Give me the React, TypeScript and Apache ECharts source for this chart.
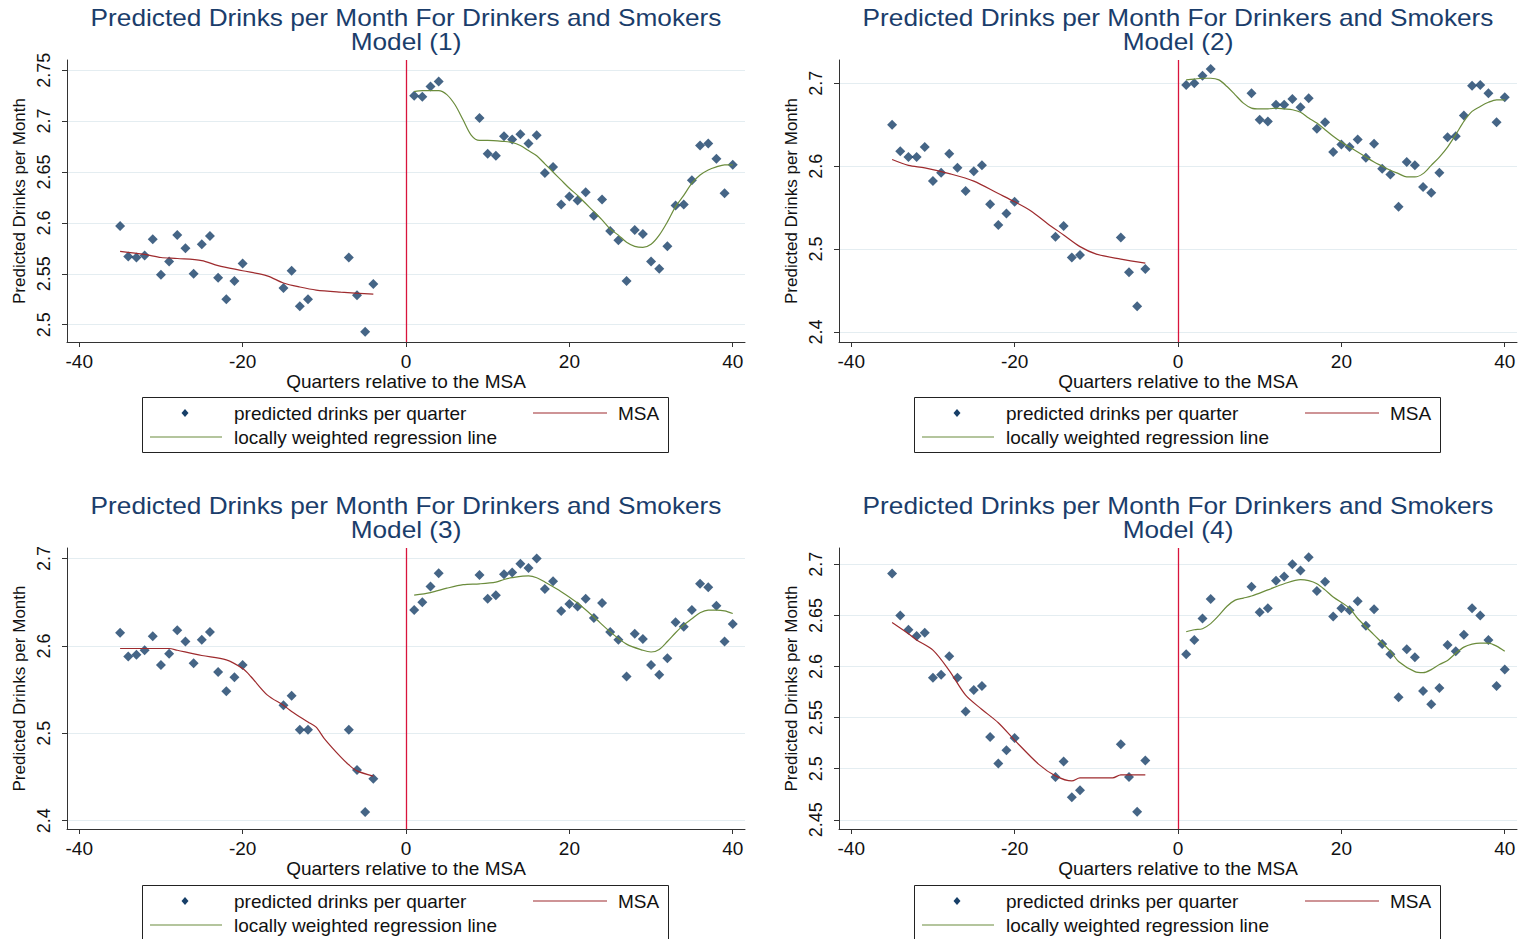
import React, { useEffect, useRef } from 'react';
import * as echarts from 'echarts';

// ---------- DATA ----------
const xLeft = [-35, -34, -33, -32, -31, -30, -29, -28, -27, -26, -25, -24, -23, -22, -21, -20, -15, -14, -13, -12, -7, -6, -5, -4];
const xRight = [1, 2, 3, 4, 9, 10, 11, 12, 13, 14, 15, 16, 17, 18, 19, 20, 21, 22, 23, 24, 25, 26, 27, 28, 29, 30, 31, 32, 33, 34, 35, 36, 37, 38, 39, 40];

const m1Left = [2.597, 2.567, 2.566, 2.568, 2.584, 2.549, 2.562, 2.588, 2.575, 2.550, 2.579, 2.587, 2.546, 2.525, 2.543, 2.560, 2.536, 2.553, 2.518, 2.525, 2.566, 2.529, 2.493, 2.540];
const m1Right = [2.725, 2.724, 2.734, 2.739, 2.703, 2.668, 2.666, 2.685, 2.682, 2.687, 2.678, 2.686, 2.649, 2.655, 2.618, 2.626, 2.622, 2.630, 2.607, 2.623, 2.592, 2.583, 2.543, 2.593, 2.589, 2.562, 2.555, 2.577, 2.617, 2.618, 2.642, 2.676, 2.678, 2.663, 2.629, 2.657];
const m2Left = [2.650, 2.618, 2.611, 2.611, 2.623, 2.582, 2.592, 2.615, 2.598, 2.570, 2.594, 2.601, 2.554, 2.529, 2.543, 2.557, 2.515, 2.528, 2.490, 2.493, 2.514, 2.472, 2.431, 2.476];
const m2Right = [2.698, 2.700, 2.709, 2.717, 2.688, 2.656, 2.654, 2.674, 2.674, 2.681, 2.671, 2.682, 2.645, 2.653, 2.617, 2.626, 2.623, 2.632, 2.610, 2.627, 2.597, 2.590, 2.551, 2.605, 2.601, 2.575, 2.568, 2.592, 2.635, 2.636, 2.661, 2.697, 2.698, 2.688, 2.653, 2.683];
const m3Left = [2.615, 2.588, 2.590, 2.595, 2.611, 2.578, 2.591, 2.618, 2.605, 2.580, 2.607, 2.616, 2.570, 2.548, 2.564, 2.578, 2.532, 2.543, 2.504, 2.504, 2.504, 2.458, 2.410, 2.448];
const m3Right = [2.641, 2.650, 2.668, 2.683, 2.681, 2.654, 2.658, 2.682, 2.684, 2.694, 2.689, 2.700, 2.665, 2.674, 2.640, 2.648, 2.645, 2.654, 2.632, 2.649, 2.616, 2.607, 2.565, 2.614, 2.608, 2.578, 2.567, 2.586, 2.627, 2.622, 2.641, 2.671, 2.667, 2.646, 2.605, 2.625];
const m4Left = [2.691, 2.650, 2.636, 2.630, 2.633, 2.589, 2.592, 2.610, 2.589, 2.556, 2.577, 2.581, 2.531, 2.505, 2.518, 2.530, 2.492, 2.507, 2.472, 2.479, 2.524, 2.492, 2.458, 2.508];
const m4Right = [2.612, 2.626, 2.647, 2.666, 2.678, 2.653, 2.657, 2.684, 2.688, 2.700, 2.694, 2.707, 2.674, 2.683, 2.649, 2.657, 2.655, 2.664, 2.640, 2.656, 2.622, 2.612, 2.570, 2.617, 2.609, 2.576, 2.563, 2.579, 2.621, 2.615, 2.631, 2.657, 2.650, 2.626, 2.581, 2.597];

// lowess lines (before MSA: red, after MSA: green)
const m1PreX = [-35, -32, -30, -28, -25, -23, -20, -17, -15, -13, -11, -8, -4];
const m1PreY = [2.572, 2.569, 2.566, 2.565, 2.563, 2.558, 2.553, 2.548, 2.541, 2.537, 2.534, 2.532, 2.530];
const m1PostX = [1, 2, 3, 4, 5, 6, 7, 8, 9, 10, 12, 13, 14, 15, 16, 17, 18, 19, 20, 21, 22, 23, 24, 25, 26, 27, 28, 29, 30, 31, 32, 33, 34, 35, 36, 37, 38, 39, 40];
const m1PostY = [2.729, 2.730, 2.730, 2.730, 2.726, 2.716, 2.701, 2.686, 2.681, 2.681, 2.680, 2.679, 2.676, 2.671, 2.666, 2.658, 2.650, 2.642, 2.634, 2.627, 2.619, 2.611, 2.603, 2.594, 2.588, 2.581, 2.577, 2.576, 2.579, 2.588, 2.601, 2.616, 2.627, 2.639, 2.647, 2.652, 2.655, 2.657, 2.657];

const m2PreX = [-35, -33, -31, -28, -25, -22, -20, -18, -16, -14, -12, -10, -7, -4];
const m2PreY = [2.608, 2.601, 2.598, 2.591, 2.582, 2.567, 2.557, 2.546, 2.531, 2.517, 2.503, 2.494, 2.488, 2.483];
const m2PostX = [1, 2, 3, 4, 5, 6, 7, 8, 9, 10, 11, 12, 13, 14, 15, 16, 17, 18, 19, 20, 21, 22, 23, 24, 25, 26, 27, 28, 29, 30, 31, 32, 33, 34, 35, 36, 37, 38, 39, 40];
const m2PostY = [2.704, 2.705, 2.706, 2.706, 2.704, 2.696, 2.686, 2.676, 2.670, 2.669, 2.669, 2.670, 2.669, 2.668, 2.665, 2.658, 2.652, 2.644, 2.636, 2.629, 2.623, 2.617, 2.611, 2.605, 2.600, 2.595, 2.591, 2.587, 2.587, 2.591, 2.601, 2.611, 2.623, 2.638, 2.654, 2.666, 2.672, 2.677, 2.680, 2.680];

const m3PreX = [-35, -29, -28, -25, -22, -20, -19, -17, -15, -14, -12, -11, -10, -8, -7, -6, -4];
const m3PreY = [2.597, 2.597, 2.595, 2.589, 2.584, 2.574, 2.565, 2.544, 2.532, 2.525, 2.513, 2.507, 2.494, 2.473, 2.464, 2.457, 2.451];
const m3PostX = [1, 3, 5, 7, 9, 11, 12, 13, 15, 16, 17, 19, 21, 23, 25, 27, 29, 30, 31, 32, 33, 34, 35, 36, 37, 38, 39, 40];
const m3PostY = [2.658, 2.661, 2.666, 2.670, 2.671, 2.673, 2.676, 2.678, 2.680, 2.678, 2.673, 2.662, 2.649, 2.633, 2.616, 2.602, 2.595, 2.593, 2.596, 2.605, 2.615, 2.624, 2.631, 2.638, 2.641, 2.641, 2.640, 2.637];

const m4PreX = [-35, -33, -32, -30, -28, -26, -24, -22, -20, -17, -15, -13, -12, -8, -7, -4];
const m4PreY = [2.643, 2.632, 2.626, 2.616, 2.596, 2.572, 2.558, 2.545, 2.528, 2.504, 2.493, 2.488, 2.491, 2.491, 2.494, 2.494];
const m4PostX = [1, 2, 3, 4, 5, 6, 7, 8, 9, 11, 13, 15, 16, 17, 18, 19, 21, 22, 24, 26, 27, 29, 30, 31, 32, 33, 34, 35, 36, 37, 38, 39, 40];
const m4PostY = [2.634, 2.636, 2.637, 2.642, 2.650, 2.659, 2.665, 2.667, 2.669, 2.675, 2.681, 2.685, 2.684, 2.681, 2.675, 2.668, 2.657, 2.647, 2.631, 2.615, 2.605, 2.595, 2.594, 2.597, 2.602, 2.606, 2.613, 2.619, 2.622, 2.623, 2.623, 2.620, 2.615];

const xTicks = [-40, -20, 0, 20, 40];
const yTicks1 = [2.5, 2.55, 2.6, 2.65, 2.7, 2.75];
const yTicks2 = [2.4, 2.5, 2.6, 2.7];
const yTicks3 = [2.4, 2.5, 2.6, 2.7];
const yTicks4 = [2.45, 2.5, 2.55, 2.6, 2.65, 2.7];

const titleText = 'Predicted Drinks per Month For Drinkers and Smokers';
const modelNames = ['Model (1)', 'Model (2)', 'Model (3)', 'Model (4)'];
const xName = 'Quarters relative to the MSA';
const yName = 'Predicted Drinks per Month';
const legendNames = ['predicted drinks per quarter', 'MSA', 'locally weighted regression line'];

// ---------- STYLE ----------
const FONT = "'Liberation Sans', Arial, Helvetica, sans-serif";
const NAVY = '#1a3d6b';
const MARKER = '#173f68';
const RED_LINE = '#9e2b2e';
const GREEN_LINE = '#6b8c3c';
const MSA_COLOR = '#d9143c';
const AXIS = '#333333';
const GRIDLINE = '#e4edf1';

const zip = (xs: number[], ys: number[]) => xs.map((x, i) => [x, ys[i]]);

const panels = [
  { left: xLeft, right: xRight, yl: m1Left, yr: m1Right, px: m1PreX, py: m1PreY, qx: m1PostX, qy: m1PostY, min: 2.483, max: 2.760, ticks: yTicks1 },
  { left: xLeft, right: xRight, yl: m2Left, yr: m2Right, px: m2PreX, py: m2PreY, qx: m2PostX, qy: m2PostY, min: 2.388, max: 2.728, ticks: yTicks2 },
  { left: xLeft, right: xRight, yl: m3Left, yr: m3Right, px: m3PreX, py: m3PreY, qx: m3PostX, qy: m3PostY, min: 2.3905, max: 2.712, ticks: yTicks3 },
  { left: xLeft, right: xRight, yl: m4Left, yr: m4Right, px: m4PreX, py: m4PreY, qx: m4PostX, qy: m4PostY, min: 2.441, max: 2.716, ticks: yTicks4 },
];

const offsets = [
  [0, 0],
  [772, 0],
  [0, 488],
  [772, 488],
];

function legendGraphics(dx: number, dy: number) {
  const y1 = 413 + dy;
  const y2 = 437 + dy;
  const cx = 185 + dx;
  return [
    {
      type: 'rect',
      shape: { x: 142.5 + dx, y: 397.5 + dy, width: 526, height: 55 },
      style: { fill: '#fff', stroke: '#222', lineWidth: 1 },
      z: 10,
    },
    {
      type: 'polygon',
      shape: { points: [[cx, y1 - 4], [cx + 3.5, y1], [cx, y1 + 4], [cx - 3.5, y1]] },
      style: { fill: MARKER },
      z: 11,
    },
    {
      type: 'text',
      x: 234 + dx,
      y: y1,
      style: { text: legendNames[0], fontSize: 19, fontFamily: FONT, fill: '#111', textVerticalAlign: 'middle' },
      z: 11,
    },
    {
      type: 'line',
      shape: { x1: 533 + dx, y1: y1, x2: 607 + dx, y2: y1 },
      style: { stroke: RED_LINE, lineWidth: 1.2 },
      z: 11,
    },
    {
      type: 'text',
      x: 618 + dx,
      y: y1,
      style: { text: legendNames[1], fontSize: 19, fontFamily: FONT, fill: '#111', textVerticalAlign: 'middle' },
      z: 11,
    },
    {
      type: 'line',
      shape: { x1: 150 + dx, y1: y2, x2: 222 + dx, y2: y2 },
      style: { stroke: GREEN_LINE, lineWidth: 1.2 },
      z: 11,
    },
    {
      type: 'text',
      x: 234 + dx,
      y: y2,
      style: { text: legendNames[2], fontSize: 19, fontFamily: FONT, fill: '#111', textVerticalAlign: 'middle' },
      z: 11,
    },
  ];
}

function buildOption() {
  const grids: any[] = [];
  const xAxes: any[] = [];
  const yAxes: any[] = [];
  const series: any[] = [];
  const graphics: any[] = [];

  panels.forEach((p, i) => {
    const [dx, dy] = offsets[i];
    grids.push({ left: 67 + dx, top: 60 + dy, width: 678, height: i < 2 ? 282 : 281, containLabel: false, outerBoundsMode: 'none' });
    xAxes.push({
      type: 'value',
      gridIndex: i,
      min: -41.5,
      max: 41.5,
      axisLine: { show: true, onZero: false, lineStyle: { color: AXIS, width: 1 } },
      axisTick: { show: true, length: 5, lineStyle: { color: AXIS }, customValues: xTicks },
      axisLabel: { customValues: xTicks, fontSize: 19, color: '#111', margin: 10, fontFamily: FONT },
      splitLine: { show: false },
      name: xName,
      nameLocation: 'middle',
      nameGap: 27,
      nameTextStyle: { fontSize: 19, color: '#111', fontFamily: FONT },
    });
    yAxes.push({
      type: 'value',
      gridIndex: i,
      min: p.min,
      max: p.max,
      axisLine: { show: true, onZero: false, lineStyle: { color: AXIS, width: 1 } },
      axisTick: { show: true, length: 5, lineStyle: { color: AXIS }, customValues: p.ticks },
      axisLabel: { customValues: p.ticks, rotate: 90, fontSize: 18, color: '#111', margin: 14, fontFamily: FONT },
      splitLine: { show: true, lineStyle: { color: GRIDLINE, width: 1 } },
      name: yName,
      nameLocation: 'middle',
      nameGap: 39,
      nameTextStyle: { fontSize: 17, color: '#111', fontFamily: FONT },
    });
    series.push({
      type: 'scatter',
      xAxisIndex: i,
      yAxisIndex: i,
      symbol: 'diamond',
      symbolSize: 10,
      itemStyle: { color: MARKER },
      data: [...zip(p.left, p.yl), ...zip(p.right, p.yr)],
      z: 3,
      markLine: {
        silent: true,
        symbol: 'none',
        label: { show: false },
        lineStyle: { color: MSA_COLOR, width: 1.3, type: 'solid' },
        data: [{ xAxis: 0 }],
      },
    });
    series.push({
      type: 'line',
      xAxisIndex: i,
      yAxisIndex: i,
      data: zip(p.px, p.py),
      showSymbol: false,
      symbol: 'none',
      smooth: 0.3,
      lineStyle: { color: RED_LINE, width: 1.2 },
      z: 4,
    });
    series.push({
      type: 'line',
      xAxisIndex: i,
      yAxisIndex: i,
      data: zip(p.qx, p.qy),
      showSymbol: false,
      symbol: 'none',
      smooth: 0.3,
      lineStyle: { color: GREEN_LINE, width: 1.2 },
      z: 4,
    });

    graphics.push({
      type: 'text',
      x: 406 + dx,
      y: 6 + dy,
      scaleX: 1.14,
      originX: 0,
      originY: 0,
      style: {
        text: titleText + '\n' + modelNames[i],
        fontSize: 23,
        lineHeight: 24,
        fontFamily: FONT,
        fill: NAVY,
        textAlign: 'center',
        textVerticalAlign: 'top',
      },
    });
    graphics.push(...legendGraphics(dx, dy));
  });

  return {
    animation: false,
    backgroundColor: '#ffffff',
    grid: grids,
    xAxis: xAxes,
    yAxis: yAxes,
    series,
    graphic: { elements: graphics },
  };
}

export default function App() {
  const ref = useRef<HTMLDivElement>(null);
  useEffect(() => {
    if (!ref.current) return;
    const chart = echarts.init(ref.current, null, { renderer: 'svg' });
    chart.setOption(buildOption());
    return () => chart.dispose();
  }, []);
  return (
    <div
      ref={ref}
      style={{ position: 'absolute', left: 0, top: 0, width: 1526, height: 939, background: '#fff' }}
    />
  );
}
